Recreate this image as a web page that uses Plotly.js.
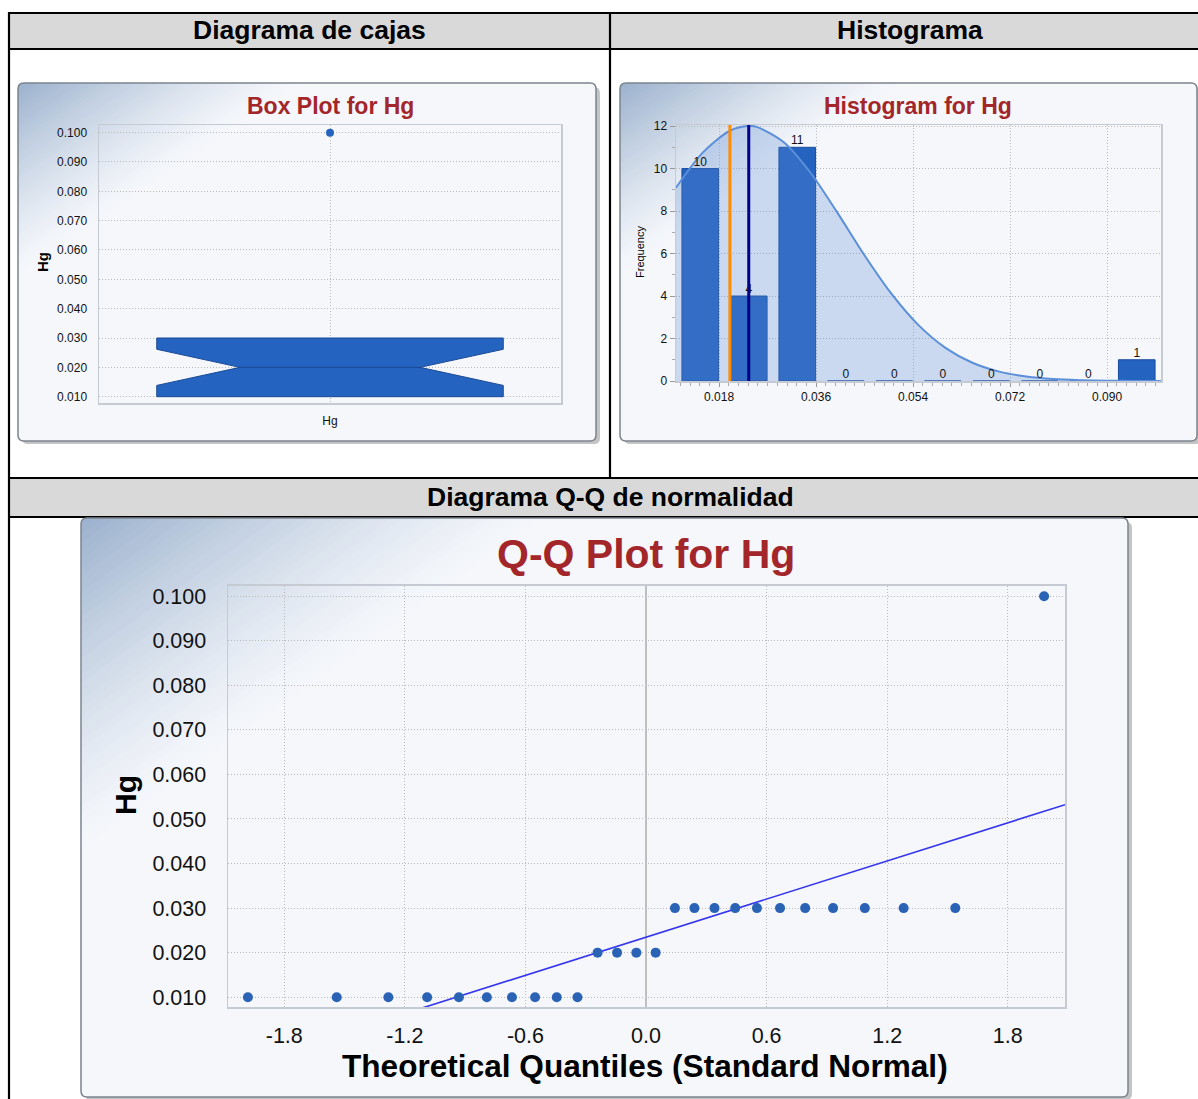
<!DOCTYPE html>
<html><head><meta charset="utf-8">
<script src="https://cdn.plot.ly/plotly-3.0.1.min.js"></script>
<style>html,body{margin:0;padding:0;background:#fff;}#chart{width:1198px;height:1099px;}</style>
</head><body><div id="chart"></div>
<script>
// ---------------- data ----------------
const hgValues = [0.01,0.01,0.01,0.01,0.01,0.01,0.01,0.01,0.01,0.01,
                  0.02,0.02,0.02,0.02,
                  0.03,0.03,0.03,0.03,0.03,0.03,0.03,0.03,0.03,0.03,0.03,
                  0.10];
const boxName = 'Hg';
const histBinCenters = [0.0145,0.0235,0.0325,0.0415,0.0505,0.0595,0.0685,0.0775,0.0865,0.0955];
const histCounts = [10,4,11,0,0,0,0,0,0,1];
const histCountLabels = ['10','4','11','0','0','0','0','0','0','1'];
const curveX = [0.010,0.015,0.020,0.0235,0.025,0.030,0.035,0.040,0.045,0.050,0.055,0.060,0.065,0.070,0.075,0.080,0.085,0.090,0.095,0.100];
const curveY = [9.10,10.76,11.78,12.0,11.96,11.24,9.79,7.90,5.91,4.10,2.63,1.56,0.86,0.44,0.21,0.09,0.04,0.014,0.005,0.001];
const hgMedian = 0.020;
const hgMean = 0.0235;
const qqTheoretical = [-1.981,-1.539,-1.282,-1.089,-0.931,-0.792,-0.667,-0.552,-0.444,-0.341,
                       -0.241,-0.144,-0.048,0.048,
                       0.144,0.241,0.341,0.444,0.552,0.667,0.792,0.931,1.089,1.282,1.539,
                       1.981];
const qqSample = hgValues;
const qqLineX = [-2.08, 2.085];
const qqLineY = [-0.0062, 0.0532];
const qqXTickVals = [-1.8,-1.2,-0.6,0,0.6,1.2,1.8];
const qqXTickText = ['-1.8','-1.2','-0.6','0.0','0.6','1.2','1.8'];
const headerLabels = ['Diagrama de cajas','Histograma','Diagrama Q-Q de normalidad'];
const chartTitles = ['Box Plot for Hg','Histogram for Hg','Q-Q Plot for Hg'];

// ---------------- helpers ----------------
const W = 1198, H = 1099;
const X = v => v / W;
const Y = v => 1 - v / H;
const FONT = 'Liberation Sans, Arial, sans-serif';
const RED = '#a3262a';
const GRID = '#b8b8b8';
const FRAME = '#c6cad3';
const BLUE = '#2563c0';
const PANEL_BG = [245, 247, 251];
const PANEL_CORNER = [156, 178, 206];

function P(x, y) { return X(x).toFixed(5) + ',' + Y(y).toFixed(5); }
function roundRect(x0, y0, x1, y1, r) {
  return 'M' + P(x0 + r, y0) + ' L' + P(x1 - r, y0) + ' Q' + P(x1, y0) + ' ' + P(x1, y0 + r) +
    ' L' + P(x1, y1 - r) + ' Q' + P(x1, y1) + ' ' + P(x1 - r, y1) +
    ' L' + P(x0 + r, y1) + ' Q' + P(x0, y1) + ' ' + P(x0, y1 - r) +
    ' L' + P(x0, y0 + r) + ' Q' + P(x0, y0) + ' ' + P(x0 + r, y0) + ' Z';
}
const shapes = [];
function rect(x0, y0, x1, y1, fill) {
  shapes.push({type:'rect', xref:'paper', yref:'paper', x0:X(x0), x1:X(x1), y0:Y(y1), y1:Y(y0),
    fillcolor:fill, line:{width:0}, layer:'below'});
}
function line(x0, y0, x1, y1, color, w) {
  shapes.push({type:'line', xref:'paper', yref:'paper', x0:X(x0), x1:X(x1), y0:Y(y0), y1:Y(y1),
    line:{color:color, width:w}, layer:'below'});
}
function mix(t) {
  const c = PANEL_BG.map((b, i) => Math.round(b + (PANEL_CORNER[i] - b) * t));
  return 'rgb(' + c.join(',') + ')';
}
function panel(x0, y0, x1, y1, lx, ly) {
  const r = 6;
  shapes.push({type:'path', xref:'paper', yref:'paper', path:roundRect(x0 + 4, y0 + 4, x1 + 4, y1 + 3, r),
    fillcolor:'#c4c4c4', line:{width:0}, layer:'below'});
  shapes.push({type:'path', xref:'paper', yref:'paper', path:roundRect(x0, y0, x1, y1, r),
    fillcolor:'rgb(' + PANEL_BG.join(',') + ')', line:{width:0}, layer:'below'});
  const N = 40;
  for (let k = N; k >= 1; k--) {
    const a = lx * k / N, b = ly * k / N;
    const t = Math.pow((N - k + 1) / N, 1.3);
    const p = 'M' + P(x0 + r, y0) + ' L' + P(x0 + a, y0) + ' L' + P(x0, y0 + b) + ' L' + P(x0, y0 + r) +
      ' Q' + P(x0, y0) + ' ' + P(x0 + r, y0) + ' Z';
    shapes.push({type:'path', xref:'paper', yref:'paper', path:p,
      fillcolor:mix(t), line:{width:0}, layer:'below'});
  }
  shapes.push({type:'path', xref:'paper', yref:'paper', path:roundRect(x0, y0, x1, y1, r),
    fillcolor:'rgba(0,0,0,0)', line:{color:'#7c848e', width:1.5}, layer:'below'});
}

// table frame
rect(9, 13, 1198, 49, '#d9d9d9');
rect(9, 478, 1198, 517, '#d9d9d9');
line(8, 13, 1198, 13, '#000', 2.2);
line(8, 49, 1198, 49, '#000', 2.2);
line(8, 478, 1198, 478, '#000', 2.2);
line(8, 517, 1198, 517, '#000', 2.2);
line(9, 12, 9, 1099, '#000', 2.2);
line(610, 13, 610, 478, '#000', 2.2);

// chart panels
panel(18, 83, 596, 441, 280, 190);
panel(620, 83, 1197, 441, 280, 190);
panel(81, 518, 1128, 1097, 460, 330);

// mean / median markers on histogram
shapes.push({type:'line', xref:'x2', yref:'y2 domain', x0:hgMedian, x1:hgMedian, y0:0, y1:1,
  line:{color:'#ff8c00', width:3}, layer:'above'});
shapes.push({type:'line', xref:'x2', yref:'y2 domain', x0:hgMean, x1:hgMean, y0:0, y1:1,
  line:{color:'#00008b', width:3}, layer:'above'});

// ---------------- traces ----------------
const traces = [
  {type:'box', y:hgValues, name:boxName, xaxis:'x', yaxis:'y',
   notched:true, notchwidth:0.24, width:0.75, boxpoints:'outliers', pointpos:0, jitter:0,
   whiskerwidth:0, fillcolor:BLUE, line:{color:'#1a4a96', width:1},
   marker:{color:BLUE, size:8}, hoverinfo:'skip'},
  {type:'scatter', x:curveX, y:curveY, xaxis:'x2', yaxis:'y2', mode:'lines',
   line:{color:'#5b8fd9', width:2, shape:'spline', smoothing:0.8},
   fill:'tozeroy', fillcolor:'rgba(90,135,210,0.27)', hoverinfo:'skip'},
  {type:'bar', x:histBinCenters, y:histCounts, xaxis:'x2', yaxis:'y2', width:0.0068,
   marker:{color:BLUE, line:{color:'#1b4d9e', width:1}}, hoverinfo:'skip'},
  {type:'scatter', x:histBinCenters, y:histCounts, text:histCountLabels, xaxis:'x2', yaxis:'y2',
   mode:'text', textposition:'top center', textfont:{size:12, color:'#111', family:FONT},
   cliponaxis:false, hoverinfo:'skip'},
  {type:'scatter', x:qqLineX, y:qqLineY, xaxis:'x3', yaxis:'y3', mode:'lines',
   line:{color:'#3535ee', width:1.6}, hoverinfo:'skip'},
  {type:'scatter', x:qqTheoretical, y:qqSample, xaxis:'x3', yaxis:'y3', mode:'markers',
   marker:{color:'#2a63b5', size:10}, hoverinfo:'skip'}
];

// ---------------- annotations ----------------
function ann(text, x, y, size, opts) {
  return Object.assign({text:text, x:X(x), y:Y(y), xref:'paper', yref:'paper', showarrow:false,
    xanchor:'center', yanchor:'middle', font:{family:FONT, size:size, color:'#000'}}, opts || {});
}
const annotations = [
  ann('<b>' + headerLabels[0] + '</b>', 309.5, 30, 26.5),
  ann('<b>' + headerLabels[1] + '</b>', 910, 30, 26.5),
  ann('<b>' + headerLabels[2] + '</b>', 610, 497, 26.5),
  ann('<b>' + chartTitles[0] + '</b>', 330, 106, 23, {font:{family:FONT, size:23, color:RED}}),
  ann('<b>' + chartTitles[1] + '</b>', 918, 106, 23, {font:{family:FONT, size:23, color:RED}}),
  ann('<b>' + chartTitles[2] + '</b>', 646, 554, 41, {font:{family:FONT, size:41, color:RED}}),
  ann('<b>Hg</b>', 42, 262, 15, {textangle:-90}),
  ann('Frequency', 640, 252, 11, {textangle:-90}),
  ann('<b>Hg</b>', 125, 795, 30, {textangle:-90}),
  ann('<b>Theoretical Quantiles (Standard Normal)</b>', 645, 1066, 31.6)
];

// ---------------- axes ----------------
const common = {showgrid:true, gridcolor:GRID, griddash:'1px,2px', gridwidth:1,
  showline:true, mirror:true, linecolor:FRAME, linewidth:1.5, zeroline:false, fixedrange:true,
  ticks:'outside', tickcolor:'rgba(0,0,0,0)'};
const layout = {
  width:W, height:H, margin:{l:0, r:0, t:0, b:0}, paper_bgcolor:'#ffffff', plot_bgcolor:'rgba(0,0,0,0)',
  showlegend:false, font:{family:FONT, color:'#111'}, bargap:0,
  shapes:shapes, annotations:annotations,
  xaxis:Object.assign({}, common, {domain:[X(99), X(561)], type:'category', range:[-0.5, 0.5],
    ticklen:6, tickfont:{size:12, color:'#111'}}),
  yaxis:Object.assign({}, common, {domain:[Y(403), Y(125)], range:[0.00785, 0.1026],
    tick0:0, dtick:0.01, tickformat:'.3f', ticklen:8, tickfont:{size:12, color:'#111'}}),
  xaxis2:Object.assign({}, common, {domain:[X(676), X(1161)], anchor:'y2', range:[0.01, 0.1],
    tick0:0, dtick:0.018, tickformat:'.3f', ticklen:4, tickcolor:'#999', tickfont:{size:12, color:'#111'},
    minor:{dtick:0.0018, tick0:0, ticklen:3, tickcolor:'#aaa', ticks:'outside', showgrid:false}}),
  yaxis2:Object.assign({}, common, {domain:[Y(381), Y(125)], anchor:'x2', range:[0, 12.05],
    dtick:2, ticklen:5, tickcolor:'#999', tickfont:{size:12, color:'#111'},
    minor:{dtick:1, ticklen:3, tickcolor:'#aaa', ticks:'outside', showgrid:false}}),
  xaxis3:Object.assign({}, common, {domain:[X(228), X(1065)], anchor:'y3', range:[-2.08, 2.085],
    tickmode:'array', tickvals:qqXTickVals, ticktext:qqXTickText, ticklen:9,
    tickfont:{size:21.5, color:'#111'}, zeroline:true, zerolinecolor:'#bfbfbf', zerolinewidth:1.5}),
  yaxis3:Object.assign({}, common, {domain:[Y(1007), Y(585.5)], anchor:'x3', range:[0.0078, 0.1024],
    tick0:0, dtick:0.01, tickformat:'.3f', ticklen:16, tickfont:{size:21.5, color:'#111'}})
};

Plotly.newPlot('chart', traces, layout, {displayModeBar:false, staticPlot:true});
</script></body></html>
